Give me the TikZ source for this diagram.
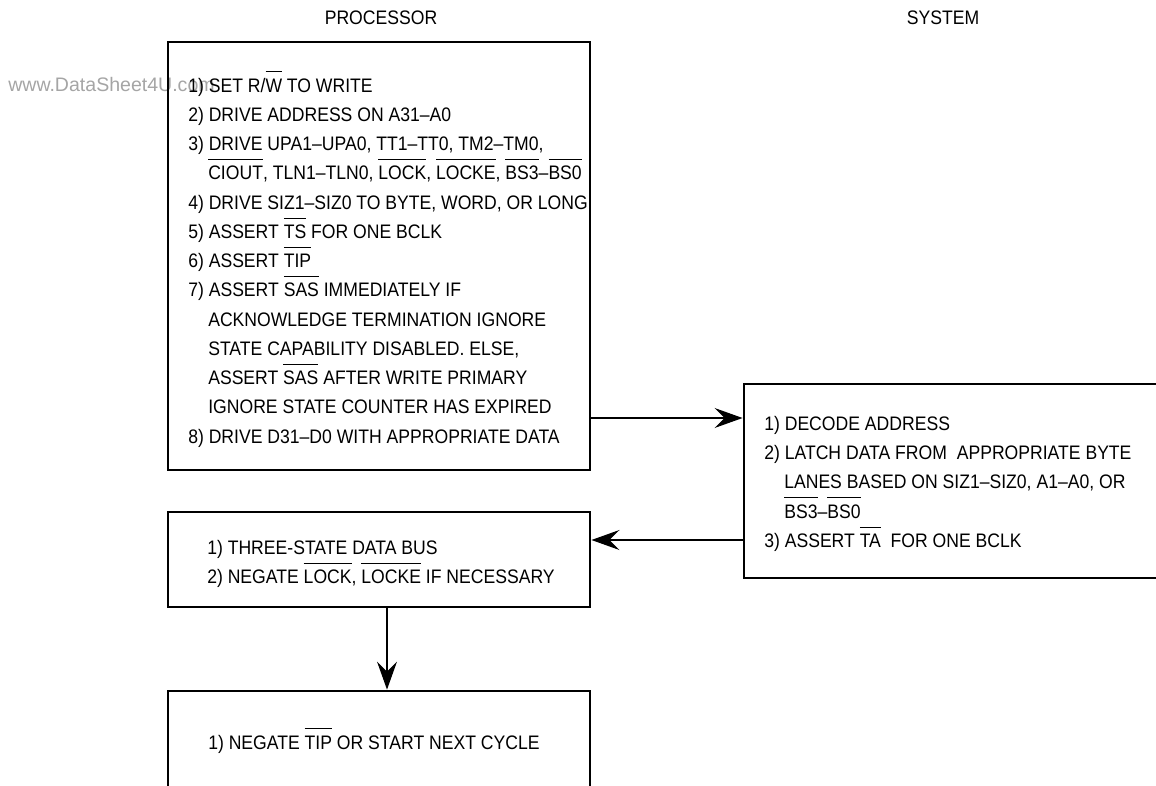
\documentclass[tikz,border=0pt]{standalone}
\usepackage{fontspec}
\setmainfont{Liberation Sans}[FakeStretch=0.9]
\newfontfamily\wmfont{Liberation Sans}
\usetikzlibrary{arrows.meta,positioning}
\definecolor{wmgray}{RGB}{165,165,165}
\newsavebox{\ovlbox}
\newcommand{\ovl}[1]{\sbox{\ovlbox}{#1}\rlap{\rule[1.02em]{\wd\ovlbox}{0.6pt}}\usebox{\ovlbox}}
\newcommand{\ind}{\hspace*{5mm}}

\begin{document}
\begin{tikzpicture}[
  x=0.025cm, y=0.025cm,
  every node/.style={font=\fontsize{13.9}{20.8}\selectfont},
  stepbox/.style={draw,line width=2pt,minimum width=10.55cm,inner sep=0pt},
  steptext/.style={align=left,inner sep=0pt,anchor=north west},
  flow/.style={-{Stealth[length=7mm,width=5mm,inset=2.5mm]},line width=0.8pt},
]
  \useasboundingbox (0,0) rectangle (1156,785);
  \clip (0,0) rectangle (1156,785);

  % Watermark
  \node[font=\wmfont\fontsize{13.9}{16}\selectfont,text=wmgray,anchor=base west,inner sep=0pt] (wm) at (8,693) {www.DataSheet4U.com};

  % Titles
  \node (ptitle) at (381,767) {PROCESSOR};
  \node (stitle) at (943,767) {SYSTEM};

  % Processor: start the write
  \node[stepbox,minimum height=10.7cm] (pbox) at (379,529) {};
  \node[steptext] (ptxt) at (188,714)
    {1) SET R/\ovl{W} TO WRITE\\
     2) DRIVE ADDRESS ON A31--A0\\
     3) DRIVE UPA1--UPA0, TT1--TT0, TM2--TM0,\\
     \ind\ovl{CIOUT}, TLN1--TLN0, \ovl{LOCK}, \ovl{LOCKE}, \ovl{BS3}--\ovl{BS0}\\
     4) DRIVE SIZ1--SIZ0 TO BYTE, WORD, OR LONG\\
     5) ASSERT \ovl{TS} FOR ONE BCLK\\
     6) ASSERT \ovl{TIP}\\
     7) ASSERT \ovl{SAS} IMMEDIATELY IF\\
     \ind ACKNOWLEDGE TERMINATION IGNORE\\
     \ind STATE CAPABILITY DISABLED. ELSE,\\
     \ind ASSERT \ovl{SAS} AFTER WRITE PRIMARY\\
     \ind IGNORE STATE COUNTER HAS EXPIRED\\
     8) DRIVE D31--D0 WITH APPROPRIATE DATA};

  % System (right)
  \node[stepbox,minimum width=11.4cm,minimum height=4.85cm] (sbox) at (972,304) {};
  \node[steptext] (stxt) at (764,369)
    {1) DECODE ADDRESS\\
     2) LATCH DATA FROM \ APPROPRIATE BYTE\\
     \ind LANES BASED ON SIZ1--SIZ0, A1--A0, OR\\
     \ind\ovl{BS3}--\ovl{BS0}\\
     3) ASSERT \ovl{TA}\ \ FOR ONE BCLK};

  % Processor: end the write
  \node[stepbox,minimum height=2.375cm] (nbox) at (379,225.5) {};
  \node[steptext] (ntxt) at (207,245)
    {1) THREE-STATE DATA BUS\\
     2) NEGATE \ovl{LOCK}, \ovl{LOCKE} IF NECESSARY};

  \node[stepbox,minimum height=2.725cm] (tbox) at (379,39.5) {};
  \node[anchor=base west,inner sep=0pt] (ttxt) at (208,36)
    {1) NEGATE \ovl{TIP} OR START NEXT CYCLE};

  % Arrows
  \coordinate (wr) at (0,367);
  \coordinate (ack) at (0,245);
  \draw[flow] (pbox.east |- wr) -- (sbox.west |- wr);
  \draw[flow] (sbox.west |- ack) -- (nbox.east |- ack);
  \draw[flow] ([xshift=2mm]nbox.south) -- ([xshift=2mm]tbox.north);
\end{tikzpicture}
\end{document}
